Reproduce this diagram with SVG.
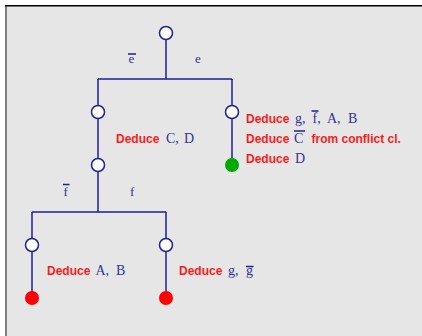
<svg xmlns="http://www.w3.org/2000/svg" width="422" height="336" viewBox="0 0 422 336">
  <style>
    .edge { stroke: #1f1f99; stroke-width: 1.5; fill: none; }
    .open { fill: #ffffff; stroke: #1f1f99; stroke-width: 1.5; }
    .conflict { fill: #ff0000; }
    .model { fill: #00aa00; }
    .kw { font-family: "Liberation Sans", Arial, sans-serif; font-weight: bold; font-size: 12px; fill: #ff1a1a; }
    .lit { font-family: "Liberation Serif", "Times New Roman", serif; font-size: 14px; fill: #333399; }
    .lbl { font-family: "Liberation Serif", "Times New Roman", serif; font-size: 13px; fill: #333399; }
    .bar { stroke: #1f1f99; stroke-width: 1.5; }
  </style>

  <!-- panel -->
  <rect x="0" y="0" width="422" height="336" fill="#ffffff"/>
  <rect x="5" y="5" width="417" height="331" fill="#e6e6e6"/>
  <rect x="5" y="5" width="2" height="331" fill="#808080"/>
  <rect x="5" y="5" width="417" height="1.5" fill="#000000"/>

  <!-- connectors -->
  <g id="connectors">
    <path class="edge" d="M166 40 V79 M98 79 H232 M98 79 V105 M232 79 V105"/>
    <path class="edge" d="M98 119 V158"/>
    <path class="edge" d="M232 119 V158"/>
    <path class="edge" d="M98 172 V212 M32 212 H166 M32 212 V238 M166 212 V238"/>
    <path class="edge" d="M32 252 V292"/>
    <path class="edge" d="M166 252 V292"/>
    <!-- branch labels -->
    <text class="lbl" x="128.5" y="63">e</text>
    <line class="bar" x1="128" y1="54" x2="136" y2="54"/>
    <text class="lbl" x="195" y="63">e</text>
    <text class="lbl" x="63.5" y="196">f</text>
    <line class="bar" x1="63" y1="184.5" x2="69.5" y2="184.5"/>
    <text class="lbl" x="130" y="196">f</text>
  </g>

  <g id="root"><circle class="open" cx="166" cy="33" r="6.5"/></g>

  <g id="n-ebar"><circle class="open" cx="98" cy="112" r="6.5"/></g>

  <g id="n-ebar-prop">
    <circle class="open" cx="98" cy="165" r="6.5"/>
    <text class="kw" x="116" y="143">Deduce</text>
    <text class="lit" x="166" y="143">C,</text>
    <text class="lit" x="184" y="143">D</text>
  </g>

  <g id="n-e">
    <circle class="open" cx="232" cy="112" r="6.5"/>
    <text class="kw" x="246" y="123">Deduce</text>
    <text class="lit" x="295" y="123">g,</text>
    <text class="lit" x="312.5" y="123">f,</text>
    <line class="bar" x1="311.5" y1="111" x2="318.5" y2="111"/>
    <text class="lit" x="327" y="123">A,</text>
    <text class="lit" x="348" y="123">B</text>
    <text class="kw" x="246" y="143">Deduce</text>
    <text class="lit" x="294" y="143">C</text>
    <line class="bar" x1="294" y1="131" x2="305" y2="131"/>
    <text class="kw" x="311.5" y="143">from conflict cl.</text>
    <text class="kw" x="246" y="163">Deduce</text>
    <text class="lit" x="295" y="163">D</text>
  </g>

  <g id="n-e-model"><circle class="model" cx="232" cy="165" r="7"/></g>

  <g id="n-fbar">
    <circle class="open" cx="32" cy="245" r="6.5"/>
    <text class="kw" x="47" y="275">Deduce</text>
    <text class="lit" x="95.5" y="275">A,</text>
    <text class="lit" x="116" y="275">B</text>
  </g>
  <g id="n-fbar-conflict"><circle class="conflict" cx="32" cy="298" r="7"/></g>

  <g id="n-f">
    <circle class="open" cx="166" cy="245" r="6.5"/>
    <text class="kw" x="179" y="275">Deduce</text>
    <text class="lit" x="228" y="275">g,</text>
    <text class="lit" x="246" y="275">g</text>
    <line class="bar" x1="246" y1="266.5" x2="253.5" y2="266.5"/>
  </g>
  <g id="n-f-conflict"><circle class="conflict" cx="166" cy="298" r="7"/></g>
</svg>
